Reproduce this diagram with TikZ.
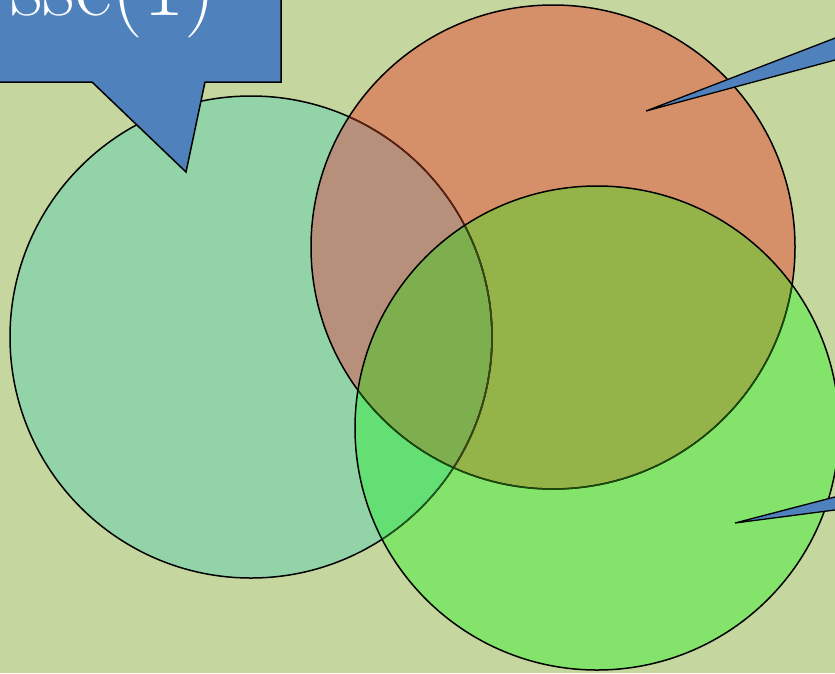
\documentclass[tikz,border=0pt]{standalone}
\definecolor{bg}{HTML}{C5D69E}
\definecolor{lcol}{HTML}{93D3A8}
\definecolor{ocol}{HTML}{D69069}
\definecolor{olcol}{HTML}{B6907A}
\definecolor{gcol}{HTML}{84E36A}
\definecolor{glcol}{HTML}{63DF74}
\definecolor{gocol}{HTML}{94B44A}
\definecolor{glocol}{HTML}{7DAF4F}
\definecolor{lino}{HTML}{5C1F12}
\definecolor{ling}{HTML}{1F5A1F}
\definecolor{linog}{HTML}{3A4510}
\definecolor{oing}{HTML}{1A4A0A}
\definecolor{cblue}{HTML}{4F81BD}
\tikzset{
  outline/.style={line width=1.5pt},
  callout/.style={fill=cblue, draw=black, line width=1.5pt, line join=miter},
}
\newcommand{\Lcirc}{(251,337) circle[radius=241]}
\newcommand{\Ocirc}{(553,247) circle[radius=242]}
\newcommand{\Gcirc}{(597,428) circle[radius=242]}
\begin{document}
\begin{tikzpicture}[x=1pt,y=-1pt]
\useasboundingbox (0,0) rectangle (835,673);
\clip (0,0) rectangle (835,673);
\fill[bg] (0,0) rectangle (835,673);
% fills
\fill[lcol] \Lcirc;
\fill[ocol] \Ocirc;
\begin{scope}\clip \Lcirc; \fill[olcol] \Ocirc;\end{scope}
\fill[gcol] \Gcirc;
\begin{scope}\clip \Lcirc; \fill[glcol] \Gcirc;\end{scope}
\begin{scope}\clip \Ocirc; \fill[gocol] \Gcirc;\end{scope}
\begin{scope}\clip \Lcirc; \clip \Ocirc; \fill[glocol] \Gcirc;\end{scope}
% strokes of left circle
\draw[outline] \Lcirc;
\begin{scope}\clip \Ocirc; \draw[outline, lino] \Lcirc;\end{scope}
\begin{scope}\clip \Gcirc; \draw[outline, ling] \Lcirc;\end{scope}
\begin{scope}\clip \Ocirc; \clip \Gcirc; \draw[outline, linog] \Lcirc;\end{scope}
% strokes of orange circle
\draw[outline] \Ocirc;
\begin{scope}\clip \Gcirc; \draw[outline, oing] \Ocirc;\end{scope}
% stroke of green circle
\draw[outline] \Gcirc;
% callout top-left
\draw[callout] (-10,-10) -- (281,-10) -- (281,82) -- (205,82) -- (186,172) -- (92,82) -- (-10,82) -- cycle;
\node[anchor=base east, text=white, font=\fontsize{90}{94}\selectfont, inner sep=0pt] (title) at (217,15) {sse(1)};
% wedge callouts on the right
\draw[callout, line width=1.3pt] (646,111) -- (900,13) -- (900,42.5) -- cycle;
\draw[callout, line width=1.3pt] (735,523) -- (900,480) -- (900,501.5) -- cycle;
\end{tikzpicture}
\end{document}
